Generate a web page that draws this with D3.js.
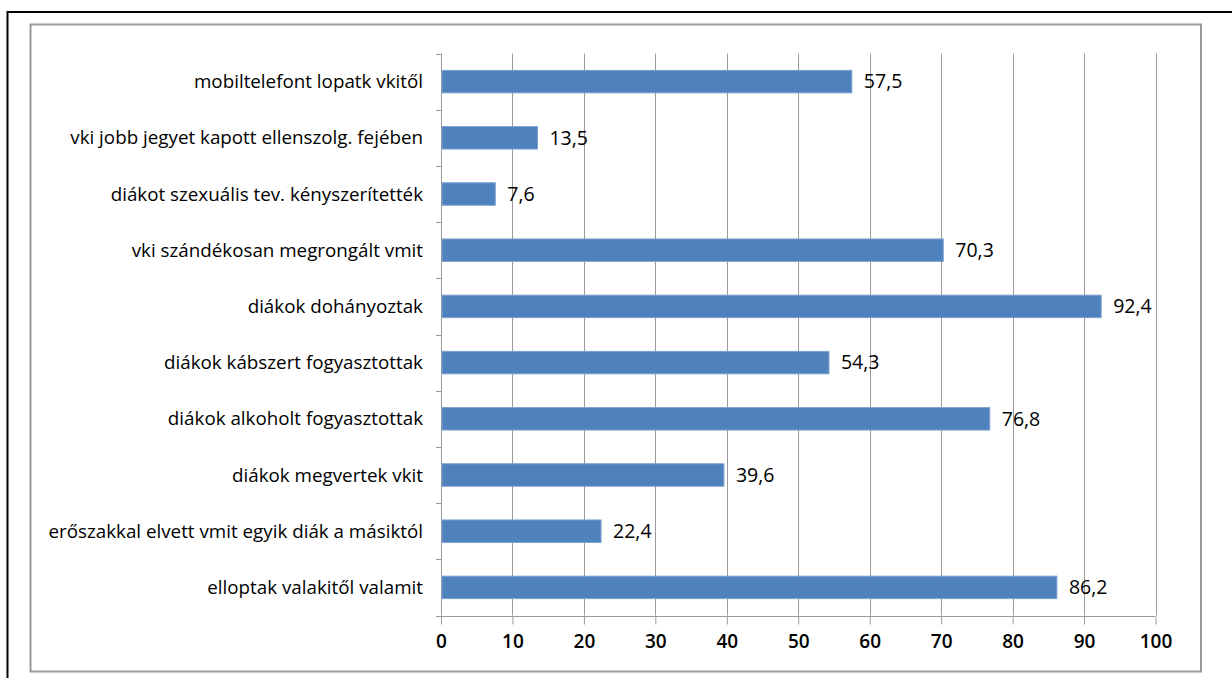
<!DOCTYPE html>
<html><head><meta charset="utf-8">
<script src="https://cdn.jsdelivr.net/npm/d3@7"></script>
<style>
body{margin:0;background:#fff;}
text{font-family:"Open Sans",sans-serif;fill:#000;}
</style></head>
<body><svg id="c" width="1232" height="678"></svg>
<script>
const categories = [
  "mobiltelefont lopatk vkitől",
  "vki jobb jegyet kapott ellenszolg. fejében",
  "diákot szexuális tev. kényszerítették",
  "vki szándékosan megrongált vmit",
  "diákok dohányoztak",
  "diákok kábszert fogyasztottak",
  "diákok alkoholt fogyasztottak",
  "diákok megvertek vkit",
  "erőszakkal elvett vmit egyik diák a másiktól",
  "elloptak valakitől valamit"
];
const values = [57.5, 13.5, 7.6, 70.3, 92.4, 54.3, 76.8, 39.6, 22.4, 86.2];
const xTicks = [0, 10, 20, 30, 40, 50, 60, 70, 80, 90, 100];

const svg = d3.select("#c");
// outer black frame
svg.append("rect").attr("x",7.5).attr("y",12).attr("width",1240).attr("height",700)
  .attr("fill","none").attr("stroke","#000").attr("stroke-width",2);
// chart area frame
svg.append("rect").attr("x",30.5).attr("y",24.5).attr("width",1170.5).attr("height",647)
  .attr("fill","none").attr("stroke","#999").attr("stroke-width",2);

const pLeft = 441, pRight = 1155.5, pTop = 53.5, pBottom = 615.5;
const x = d3.scaleLinear().domain([0,100]).range([pLeft,pRight]);
const y = d3.scaleBand().domain(categories).range([pTop,pBottom]).paddingInner(0.6).paddingOuter(0.3);
const yb = d3.scaleBand().domain(categories).range([pTop,pBottom]);

// gridlines
svg.append("g").selectAll("line").data(xTicks.slice(1)).join("line")
  .attr("x1",d=>Math.round(x(d))+0.5).attr("x2",d=>Math.round(x(d))+0.5)
  .attr("y1",pTop).attr("y2",pBottom)
  .attr("stroke","#9a9a9a").attr("stroke-width",1);

// x axis
const xa = svg.append("g").attr("transform",`translate(0,${Math.round(pBottom)+0.5})`)
  .call(d3.axisBottom(x).tickValues(xTicks).tickSize(8).tickPadding(10).tickFormat(d3.format("d")));
xa.select(".domain").attr("stroke","#9a9a9a").attr("d",`M${pLeft-5},0H${pRight}`);
xa.selectAll(".tick line").attr("stroke","#9a9a9a");
xa.selectAll(".tick text").style("font-size","19px").style("font-weight","600").attr("fill","#000");

// y axis (ticks at band boundaries)
const yEdges = d3.range(categories.length+1).map(i=>pTop + i*yb.bandwidth());
svg.append("line").attr("x1",pLeft+0.5).attr("x2",pLeft+0.5).attr("y1",pTop).attr("y2",pBottom)
  .attr("stroke","#9a9a9a");
svg.append("g").selectAll("line").data(yEdges).join("line")
  .attr("x1",pLeft-5).attr("x2",pLeft).attr("y1",d=>Math.round(d)+0.5).attr("y2",d=>Math.round(d)+0.5)
  .attr("stroke","#9a9a9a");

// category labels
svg.append("g").selectAll("text").data(categories).join("text")
  .attr("x",pLeft-18).attr("y",d=>yb(d)+yb.bandwidth()/2)
  .attr("dy","0.35em").attr("text-anchor","end").style("font-size","18.8px")
  .text(d=>d);

// bars
svg.append("g").selectAll("rect").data(values).join("rect")
  .attr("x",pLeft+1).attr("y",(d,i)=>y(categories[i]))
  .attr("width",d=>x(d)-pLeft-1).attr("height",y.bandwidth())
  .attr("fill","#4f81bd").attr("stroke","#7ea2d0").attr("stroke-width",1);

// value labels
const fmt = d=>d.toFixed(1).replace(".",",");
svg.append("g").selectAll("text").data(values).join("text")
  .attr("x",d=>x(d)+12).attr("y",(d,i)=>yb(categories[i])+yb.bandwidth()/2)
  .attr("dy","0.35em").style("font-size","19.5px")
  .text(fmt);
</script></body></html>
